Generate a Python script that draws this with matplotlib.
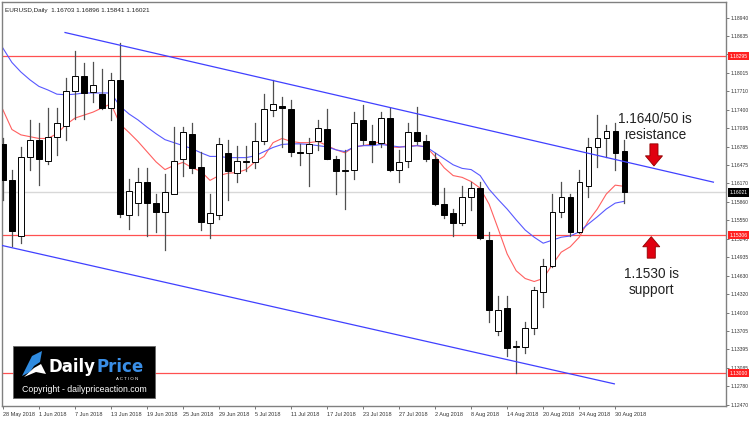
import matplotlib.pyplot as plt
from matplotlib.patches import Rectangle, FancyArrow, Polygon
from matplotlib.transforms import blended_transform_factory
import numpy as np

plt.rcParams['font.family'] = ['Liberation Sans', 'DejaVu Sans']

# EURUSD daily, 28 May 2018 - 31 Aug 2018
opens = [1.1683, 1.1622, 1.1529, 1.1661, 1.1690, 1.1654, 1.1695, 1.1713, 1.1771, 1.1796,
         1.1770, 1.1766, 1.1743, 1.1790, 1.1564, 1.1584, 1.1620, 1.1585, 1.1569, 1.1600,
         1.1658, 1.1700, 1.1645, 1.1551, 1.1564, 1.1667, 1.1635, 1.1653, 1.1652, 1.1687,
         1.1740, 1.1746, 1.1741, 1.1670, 1.1668, 1.1687, 1.1708, 1.1658, 1.1637, 1.1640,
         1.1723, 1.1688, 1.1685, 1.1726, 1.1640, 1.1655, 1.1703, 1.1688, 1.1657, 1.1582,
         1.1567, 1.1551, 1.1595, 1.1609, 1.1522, 1.1370, 1.1408, 1.1343, 1.1343, 1.1375,
         1.1436, 1.1479, 1.1569, 1.1595, 1.1536, 1.1612, 1.1677, 1.1692, 1.1705, 1.16703]
highs = [1.1693, 1.1639, 1.1677, 1.1723, 1.1717, 1.1743, 1.1743, 1.1793, 1.1838, 1.1818,
         1.1819, 1.1808, 1.1801, 1.1851, 1.1624, 1.1643, 1.1643, 1.1599, 1.1632, 1.1711,
         1.1711, 1.1718, 1.1670, 1.1599, 1.1692, 1.1690, 1.1680, 1.1680, 1.1718, 1.1766,
         1.1790, 1.1761, 1.1756, 1.1682, 1.1693, 1.1723, 1.1742, 1.1663, 1.1673, 1.1736,
         1.1748, 1.1715, 1.1736, 1.1743, 1.1673, 1.1718, 1.1745, 1.1698, 1.1668, 1.1610,
         1.1574, 1.1612, 1.1620, 1.1619, 1.1536, 1.1429, 1.1428, 1.1353, 1.1386, 1.1444,
         1.1491, 1.1599, 1.1619, 1.1599, 1.1639, 1.1692, 1.1731, 1.1715, 1.1717, 1.16896]
lows = [1.1590, 1.1512, 1.1518, 1.1639, 1.1615, 1.1650, 1.1665, 1.1690, 1.1725, 1.1725,
        1.1753, 1.1741, 1.1723, 1.1560, 1.1541, 1.1564, 1.1529, 1.1536, 1.1506, 1.1629,
        1.1629, 1.1634, 1.1539, 1.1526, 1.1557, 1.1589, 1.1619, 1.1637, 1.1643, 1.1683,
        1.1730, 1.1677, 1.1663, 1.1647, 1.1612, 1.1673, 1.1657, 1.1600, 1.1574, 1.1624,
        1.1682, 1.1653, 1.1678, 1.1638, 1.1619, 1.1645, 1.1682, 1.1655, 1.1580, 1.1559,
        1.1529, 1.1547, 1.1572, 1.1524, 1.1386, 1.1363, 1.1328, 1.1300, 1.1333, 1.1366,
        1.1411, 1.1477, 1.1560, 1.1529, 1.1534, 1.1594, 1.1645, 1.1661, 1.1640, 1.15841]
closes = [1.1622, 1.1537, 1.1661, 1.1690, 1.1658, 1.1695, 1.1717, 1.1771, 1.1796, 1.1768,
          1.1781, 1.1743, 1.1790, 1.1565, 1.1605, 1.1620, 1.1585, 1.1569, 1.1602, 1.1655,
          1.1702, 1.1643, 1.1552, 1.1567, 1.1683, 1.1637, 1.1654, 1.1654, 1.1688, 1.1741,
          1.1750, 1.1743, 1.1670, 1.1668, 1.1683, 1.1710, 1.1658, 1.1637, 1.1640, 1.1718,
          1.1690, 1.1682, 1.1726, 1.1640, 1.1653, 1.1703, 1.1688, 1.1657, 1.1582, 1.1564,
          1.1551, 1.1595, 1.1609, 1.1526, 1.1406, 1.1406, 1.1342, 1.1345, 1.1375, 1.1438,
          1.1479, 1.1569, 1.1595, 1.1536, 1.1620, 1.1677, 1.1693, 1.1705, 1.1668, 1.16021]

ma_fast = [1.1740, 1.1707, 1.1698, 1.1695, 1.1692, 1.1692, 1.1700, 1.1715, 1.1726, 1.1731,
           1.1736, 1.1743, 1.1750, 1.1716, 1.1702, 1.1687, 1.1670, 1.1653, 1.1640, 1.1647,
           1.1652, 1.1643, 1.1637, 1.1622, 1.1630, 1.1634, 1.1635, 1.1640, 1.1653, 1.1662,
           1.1685, 1.1692, 1.1687, 1.1685, 1.1685, 1.1687, 1.1680, 1.1673, 1.1668, 1.1678,
           1.1680, 1.1683, 1.1687, 1.1678, 1.1677, 1.1680, 1.1680, 1.1678, 1.1662, 1.1643,
           1.1630, 1.1627, 1.1620, 1.1609, 1.1582, 1.1541, 1.1499, 1.1471, 1.1458, 1.1453,
           1.1458, 1.1481, 1.1502, 1.1511, 1.1527, 1.1554, 1.1574, 1.1599, 1.1614, 1.1612]
ma_slow = [1.1843, 1.1819, 1.1803, 1.1790, 1.1779, 1.1773, 1.1766, 1.1765, 1.1766, 1.1768,
           1.1768, 1.1768, 1.1768, 1.1746, 1.1733, 1.1723, 1.1711, 1.1700, 1.1690, 1.1685,
           1.1680, 1.1675, 1.1668, 1.1662, 1.1662, 1.1660, 1.1660, 1.1660, 1.1663, 1.1670,
           1.1677, 1.1682, 1.1683, 1.1683, 1.1682, 1.1680, 1.1678, 1.1673, 1.1670, 1.1678,
           1.1680, 1.1680, 1.1682, 1.1680, 1.1678, 1.1678, 1.1680, 1.1678, 1.1668, 1.1658,
           1.1648, 1.1642, 1.1640, 1.1630, 1.1607, 1.1590, 1.1574, 1.1556, 1.1539, 1.1527,
           1.1517, 1.1522, 1.1527, 1.1529, 1.1536, 1.1549, 1.1561, 1.1574, 1.1584, 1.1587]

date_pos = [0, 4, 8, 12, 16, 20, 24, 28, 32, 36, 40, 44, 48, 52, 56, 60, 64, 68]
date_labels = ["28 May 2018", "1 Jun 2018", "7 Jun 2018", "13 Jun 2018", "19 Jun 2018",
               "25 Jun 2018", "29 Jun 2018", "5 Jul 2018", "11 Jul 2018", "17 Jul 2018",
               "23 Jul 2018", "27 Jul 2018", "2 Aug 2018", "8 Aug 2018", "14 Aug 2018",
               "20 Aug 2018", "24 Aug 2018", "30 Aug 2018"]
price_ticks = [1.12470, 1.12780, 1.13085, 1.13395, 1.13705, 1.14010, 1.14320, 1.14630,
               1.14935, 1.15240, 1.15550, 1.15860, 1.16170, 1.16475, 1.16785, 1.17095,
               1.17400, 1.17710, 1.18015, 1.18325, 1.18635, 1.18940]
levels = [1.18295, 1.15306, 1.13000]
last_price = 1.16021
# channel lines (start index, start price, end index, end price)
upper_chan = ([6.9, 78.9], [1.1869, 1.1619])
lower_chan = ([-0.33, 67.9], [1.1514, 1.1282])

fig = plt.figure(figsize=(7.5, 4.21), dpi=100)
ax = fig.add_axes([2 / 750, 15 / 421, 724 / 750, 404 / 421])

for lv in levels:
    ax.axhline(lv, color='#ff5050', lw=0.9, zorder=1)
ax.axhline(last_price, color='#d8d8d8', lw=1.0, zorder=1)

x = np.arange(len(opens))
ax.plot(x, ma_fast, color='#ff6060', lw=0.8, zorder=2)
ax.plot(x, ma_slow, color='#5858ff', lw=0.8, zorder=2)

for i in range(len(opens)):
    o, h, l, c = opens[i], highs[i], lows[i], closes[i]
    ax.plot([i, i], [l, h], color='#505050', lw=0.9, zorder=3)
    bottom = min(o, c)
    height = max(abs(c - o), 0.00008)
    face = 'white' if c >= o else 'black'
    ax.add_patch(Rectangle((i - 0.3, bottom), 0.6, height, facecolor=face,
                           edgecolor='black', lw=0.7, zorder=4))

ax.plot(*upper_chan, color='#4040ff', lw=0.9, zorder=5)
ax.plot(*lower_chan, color='#4040ff', lw=0.9, zorder=5)

ax.set_xlim(-0.1, 80.3)
ax.set_ylim(1.1245, 1.1920)

ax.yaxis.tick_right()
ax.set_yticks(price_ticks)
ax.set_yticklabels(['%.5f' % p for p in price_ticks])
ax.set_xticks(date_pos)
ax.set_xticklabels(date_labels, ha='left')
ax.tick_params(axis='x', labelsize=4.0, length=2.5, width=0.6, colors='#606060',
               labelcolor='#333333', pad=1.5)
ax.tick_params(axis='y', labelsize=3.6, length=2.0, width=0.6, colors='#606060',
               labelcolor='#333333', pad=1.0)
for sp in ax.spines.values():
    sp.set_color('#808080')
    sp.set_linewidth(1.0)

trans = blended_transform_factory(ax.transAxes, ax.transData)
for lv in levels:
    ax.text(1.0045, lv, '%.5f' % lv, transform=trans, fontsize=3.6, color='white',
            va='center', ha='left', zorder=10,
            bbox=dict(boxstyle='square,pad=0.35', fc='#ff2020', ec='none'))
ax.text(1.0045, last_price, '%.5f' % last_price, transform=trans, fontsize=3.6,
        color='white', va='center', ha='left', zorder=10,
        bbox=dict(boxstyle='square,pad=0.35', fc='black', ec='none'))

ax.text(0.004, 0.985, 'EURUSD,Daily  1.16703 1.16896 1.15841 1.16021',
        transform=ax.transAxes, fontsize=4.6, color='#222222', va='top')

# annotations
ax.text(72.4, 1.1711, '1.1640/50 is\nresistance', fontsize=9.8, ha='center',
        va='center', color='#222222', linespacing=1.15, zorder=8)
ax.text(72.0, 1.1452, '1.1530 is\nsupport', fontsize=9.8, ha='center',
        va='center', color='#222222', linespacing=1.15, zorder=8)
ax.add_patch(FancyArrow(72.3, 1.1683, 0, -0.0037, width=0.9, head_width=1.9,
                        head_length=0.0017, length_includes_head=True,
                        fc='#e00010', ec='#900000', lw=0.6, zorder=8))
ax.add_patch(FancyArrow(72.0, 1.1492, 0, 0.0036, width=0.9, head_width=1.9,
                        head_length=0.0017, length_includes_head=True,
                        fc='#e00010', ec='#900000', lw=0.6, zorder=8))

# logo box
W, H = 750.0, 421.0
def fx(px):
    return px / W
def fy(py):
    return 1 - py / H
fig.add_artist(Rectangle((fx(13), fy(398)), 142 / W, 52 / H, transform=fig.transFigure,
                         fc='black', ec='#666666', lw=0.6, zorder=20))
fig.add_artist(Polygon([(fx(22), fy(376)), (fx(32), fy(356)), (fx(42), fy(351)),
                        (fx(40), fy(362)), (fx(34), fy(366)), (fx(30), fy(372))],
                       closed=True, transform=fig.transFigure, fc='#2f8be0', ec='none',
                       zorder=21))
fig.add_artist(Polygon([(fx(24), fy(377)), (fx(34), fy(368)), (fx(41), fy(364)),
                        (fx(46), fy(374)), (fx(36), fy(372))],
                       closed=True, transform=fig.transFigure, fc='white', ec='none',
                       zorder=21))
fig.text(fx(49), fy(367), 'Daily', fontsize=12, fontweight='bold', color='white',
         va='center', ha='left', zorder=22, family='DejaVu Sans')
fig.text(fx(96), fy(367), 'Price', fontsize=12, fontweight='bold', color='#3a8ee6',
         va='center', ha='left', zorder=22, family='DejaVu Sans')
fig.text(fx(127), fy(378.5), 'A C T I O N', fontsize=3.2, color='white',
         va='center', ha='center', zorder=22)
fig.text(fx(84), fy(389), 'Copyright - dailypriceaction.com', fontsize=6.3,
         color='white', va='center', ha='center', zorder=22)

fig.savefig('out.png', dpi=100)
